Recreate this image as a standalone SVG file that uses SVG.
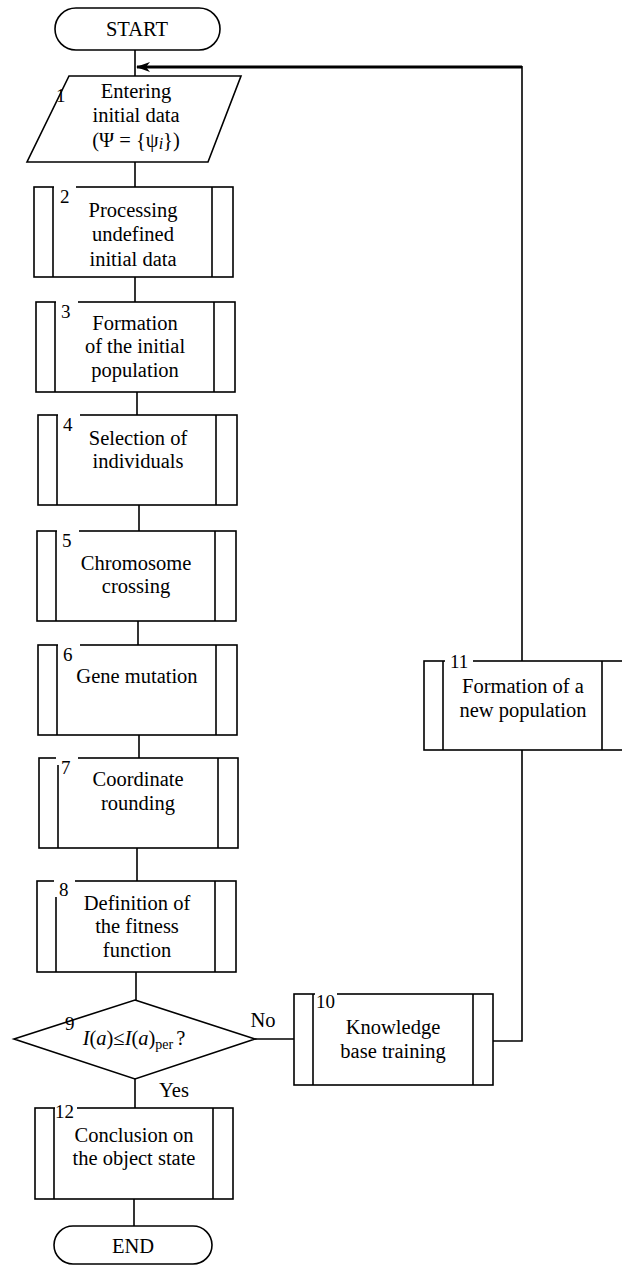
<svg xmlns="http://www.w3.org/2000/svg" width="622" height="1266" viewBox="0 0 622 1266">
<style>
.s{fill:#fff;stroke:#000;stroke-width:1.6}
.l{fill:none;stroke:#000;stroke-width:1.6}
text{font-family:'Liberation Serif','DejaVu Serif',serif;fill:#000}
.t{font-size:20.5px;text-anchor:middle}
.n{font-size:19px;text-anchor:start}
</style>
<defs>
<marker id="ah" markerWidth="14" markerHeight="10" refX="13" refY="5" orient="auto" markerUnits="userSpaceOnUse">
<path d="M0,0 L14,5 L0,10 L4,5 Z" fill="#000"/>
</marker>
</defs>
<rect width="622" height="1266" fill="#fff"/>
<g id="connectors">
<line class="l" x1="135" y1="50" x2="135" y2="76"/>
<line class="l" x1="135" y1="162" x2="135" y2="187"/>
<line class="l" x1="135" y1="277" x2="135" y2="302"/>
<line class="l" x1="137" y1="392" x2="137" y2="415"/>
<line class="l" x1="139" y1="505" x2="139" y2="531"/>
<line class="l" x1="138" y1="621" x2="138" y2="645"/>
<line class="l" x1="139" y1="735" x2="139" y2="758"/>
<line class="l" x1="137" y1="848" x2="137" y2="881"/>
<line class="l" x1="136" y1="972" x2="136" y2="1000"/>
<line class="l" x1="255" y1="1039" x2="294" y2="1039"/>
<line class="l" x1="135" y1="1079" x2="135" y2="1108"/>
<line class="l" x1="134" y1="1199" x2="134" y2="1226"/>
<polyline class="l" points="493,1041 522,1041 522,750"/>
<line class="l" x1="522" y1="661" x2="522" y2="66"/>
<line x1="522" y1="67" x2="137" y2="67" stroke="#000" stroke-width="3" marker-end="url(#ah)"/>
<text class="t" x="263" y="1027">No</text>
<text class="t" x="174" y="1097">Yes</text>
</g>
<g id="start">
<rect class="s" x="55" y="8" width="165" height="42" rx="21"/>
<text class="t" x="137" y="36">START</text>
</g>
<g id="n1">
<polygon class="s" points="69,76 241,76 208,162 27,162"/>
<text class="n" x="56" y="102">1</text>
<text class="t" x="136" y="98">Entering</text>
<text class="t" x="136" y="122">initial data</text>
<text class="t" x="136" y="147">(Ψ = {ψ<tspan font-style="italic" font-size="16" dy="2">i</tspan><tspan dy="-2">})</tspan></text>
</g>
<g id="n2">
<rect class="s" x="34" y="187" width="199" height="90"/>
<line class="l" x1="53" y1="187" x2="53" y2="277"/><line class="l" x1="212" y1="187" x2="212" y2="277"/>
<line x1="54" y1="187" x2="76" y2="187" stroke="#fff" stroke-width="2.5"/>
<text class="n" x="60" y="203">2</text>
<text class="t" x="133" y="217">Processing</text>
<text class="t" x="133" y="241">undefined</text>
<text class="t" x="133" y="266">initial data</text>
</g>
<g id="n3">
<rect class="s" x="36" y="302" width="199" height="90"/>
<line class="l" x1="55" y1="302" x2="55" y2="392"/><line class="l" x1="214" y1="302" x2="214" y2="392"/>
<line x1="56" y1="302" x2="78" y2="302" stroke="#fff" stroke-width="2.5"/>
<text class="n" x="61" y="318">3</text>
<text class="t" x="135" y="330">Formation</text>
<text class="t" x="135" y="353">of the initial</text>
<text class="t" x="135" y="377">population</text>
</g>
<g id="n4">
<rect class="s" x="38" y="415" width="199" height="90"/>
<line class="l" x1="57" y1="415" x2="57" y2="505"/><line class="l" x1="216" y1="415" x2="216" y2="505"/>
<line x1="58" y1="415" x2="80" y2="415" stroke="#fff" stroke-width="2.5"/>
<text class="n" x="63" y="431">4</text>
<text class="t" x="138" y="445">Selection of</text>
<text class="t" x="138" y="468">individuals</text>
</g>
<g id="n5">
<rect class="s" x="37" y="531" width="199" height="90"/>
<line class="l" x1="56" y1="531" x2="56" y2="621"/><line class="l" x1="215" y1="531" x2="215" y2="621"/>
<line x1="57" y1="531" x2="79" y2="531" stroke="#fff" stroke-width="2.5"/>
<text class="n" x="62" y="547">5</text>
<text class="t" x="136" y="570">Chromosome</text>
<text class="t" x="136" y="593">crossing</text>
</g>
<g id="n6">
<rect class="s" x="38" y="645" width="199" height="90"/>
<line class="l" x1="57" y1="645" x2="57" y2="735"/><line class="l" x1="216" y1="645" x2="216" y2="735"/>
<line x1="58" y1="645" x2="80" y2="645" stroke="#fff" stroke-width="2.5"/>
<text class="n" x="63" y="661">6</text>
<text class="t" x="137" y="683">Gene mutation</text>
</g>
<g id="n7">
<rect class="s" x="39" y="758" width="199" height="90"/>
<line class="l" x1="58" y1="765" x2="58" y2="848"/><line class="l" x1="218" y1="758" x2="218" y2="848"/>
<line x1="56" y1="758" x2="78" y2="758" stroke="#fff" stroke-width="2.5"/>
<text class="n" x="61" y="774">7</text>
<text class="t" x="138" y="786">Coordinate</text>
<text class="t" x="138" y="810">rounding</text>
</g>
<g id="n8">
<rect class="s" x="37" y="881" width="199" height="91"/>
<line class="l" x1="56" y1="897" x2="56" y2="972"/><line class="l" x1="215" y1="881" x2="215" y2="972"/>
<line x1="54" y1="881" x2="75" y2="881" stroke="#fff" stroke-width="2.5"/>
<text class="n" x="59" y="896">8</text>
<text class="t" x="137" y="910">Definition of</text>
<text class="t" x="137" y="933">the fitness</text>
<text class="t" x="137" y="957">function</text>
</g>
<g id="n9">
<polygon class="s" points="135,1000 255,1039 135,1079 14,1039"/>
<text class="n" x="65" y="1030">9</text>
<text class="t" x="134" y="1045"><tspan font-style="italic">I</tspan>(<tspan font-style="italic">a</tspan>)≤<tspan font-style="italic">I</tspan>(<tspan font-style="italic">a</tspan>)<tspan font-size="14" dy="4">per</tspan><tspan dy="-4" dx="3">?</tspan></text>
</g>
<g id="n10">
<rect class="s" x="294" y="994" width="199" height="91"/>
<line class="l" x1="313" y1="994" x2="313" y2="1085"/><line class="l" x1="473" y1="994" x2="473" y2="1085"/>
<line x1="315" y1="994" x2="337" y2="994" stroke="#fff" stroke-width="2.5"/>
<text class="n" x="316" y="1008">10</text>
<text class="t" x="393" y="1034">Knowledge</text>
<text class="t" x="393" y="1058">base training</text>
</g>
<g id="n11">
<rect class="s" x="424" y="661" width="210" height="89"/>
<line class="l" x1="443" y1="661" x2="443" y2="750"/><line class="l" x1="602" y1="661" x2="602" y2="750"/>
<line x1="445" y1="661" x2="473" y2="661" stroke="#fff" stroke-width="2.5"/>
<text class="n" x="450" y="668">11</text>
<text class="t" x="523" y="693">Formation of a</text>
<text class="t" x="523" y="717">new population</text>
</g>
<g id="n12">
<rect class="s" x="35" y="1108" width="198" height="91"/>
<line class="l" x1="54" y1="1108" x2="54" y2="1199"/><line class="l" x1="213" y1="1108" x2="213" y2="1199"/>
<line x1="55" y1="1108" x2="77" y2="1108" stroke="#fff" stroke-width="2.5"/>
<text class="n" x="55" y="1118">12</text>
<text class="t" x="134" y="1142">Conclusion on</text>
<text class="t" x="134" y="1165">the object state</text>
</g>
<g id="end">
<rect class="s" x="54" y="1226" width="158" height="38" rx="19"/>
<text class="t" x="133" y="1253">END</text>
</g>
</svg>
